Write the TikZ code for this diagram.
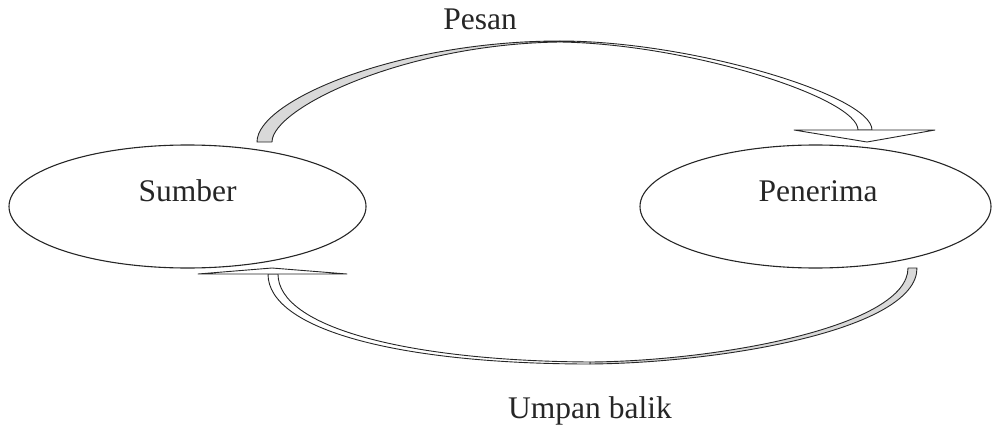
\documentclass[tikz,border=0pt]{standalone}
\usepackage{fontspec}
\setmainfont{Liberation Serif}
\usetikzlibrary{shapes.geometric}
\begin{document}
\begin{tikzpicture}[x=1pt,y=-1pt,
  ell/.style={draw=black!85, line width=1.1pt, ellipse, minimum height=123pt, inner sep=0pt},
  lbl/.style={inner sep=0pt, anchor=base, font=\fontsize{31.5}{36}\selectfont, text=black!85},
  band/.style={draw=black!85, line width=0.9pt, line join=round},
  under/.style={band, fill=black!15},
  topside/.style={band, fill=white}]
\useasboundingbox (0,0) rectangle (992,425);
\node[ell, minimum width=357pt] (src) at (187.5,206.5) {};
\node[ell, minimum width=351pt] (dst) at (815.5,206.5) {};
\node[lbl] (srct) at (187.5,201) {Sumber};
\node[lbl] (dstt) at (818,201) {Penerima};
\node[lbl] (pesan) at (480,30) {Pesan};
\node[lbl] (umpan) at (590,418) {Umpan balik};
% top arrow: source -> receiver
\coordinate (t0o) at (257,142);
\coordinate (t0i) at (272,142);
\coordinate (tm) at (560,41);
\coordinate (tmi) at (560,42);
\coordinate (t1o) at (872,130);
\coordinate (t1i) at (858,130);
\filldraw[under] (t0o) .. controls (257,100) and (400,41) .. (tm)
  -- (tmi) .. controls (405,44) and (272,108) .. (t0i) -- cycle;
\filldraw[topside] (tm) .. controls (690,41) and (872,95) .. (t1o)
  -- (t1i) .. controls (858,98) and (690,44) .. (tmi) -- cycle;
\filldraw[topside] (794,130) -- (935,130) -- (867,142) -- cycle;
% bottom arrow: receiver -> source
\coordinate (b0o) at (917,268);
\coordinate (b0i) at (908,268);
\coordinate (bm) at (590,364);
\coordinate (bmi) at (590,362);
\coordinate (b1o) at (268,274);
\coordinate (b1i) at (278,274);
\filldraw[under] (b0o) .. controls (917,330) and (720,363) .. (bm)
  -- (bmi) .. controls (720,361) and (908,326) .. (b0i) -- cycle;
\filldraw[topside] (bm) .. controls (400,364) and (268,330) .. (b1o)
  -- (b1i) .. controls (278,328) and (410,361) .. (bmi) -- cycle;
\filldraw[topside] (198,274) -- (347,274) -- (272,268) -- cycle;
\end{tikzpicture}
\end{document}
